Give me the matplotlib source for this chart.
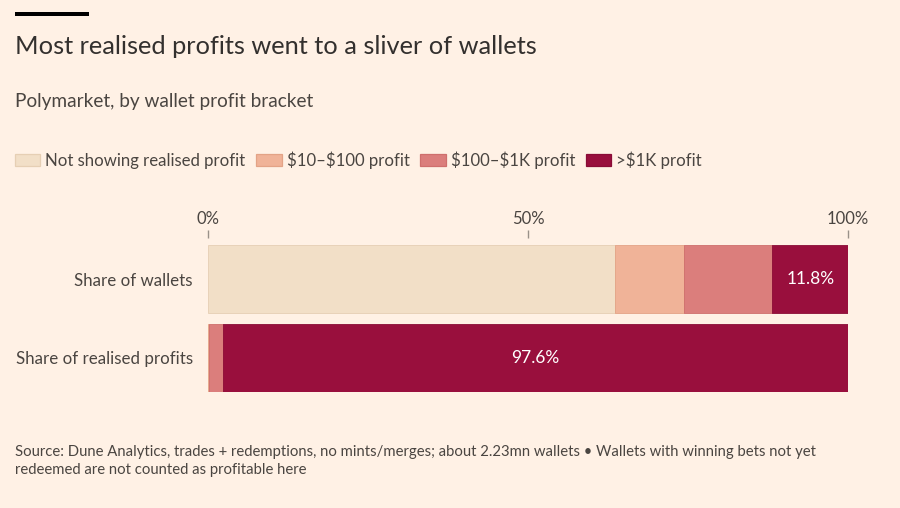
import matplotlib.pyplot as plt
from matplotlib.patches import Patch, Rectangle

# data (percent)
rows = ["Share of wallets", "Share of realised profits"]
brackets = ["Not showing realised profit", "\\$10\u2013\\$100 profit", "\\$100\u2013\\$1K profit", ">\\$1K profit"]
wallets = [63.6, 10.8, 13.8, 11.8]
profits = [0.0, 0.1, 2.3, 97.6]
ticks = [0, 50, 100]
tick_labels = ["0%", "50%", "100%"]

colors = ["#f2dfc7", "#f0b398", "#db7e7c", "#990f3d"]
edges = ["#e6cfb4", "#e3a386", "#cf6f6d", "#8a0c36"]
bg = "#fff1e5"
txt = "#33302e"
txt2 = "#4a4541"

plt.rcParams['font.family'] = ['Lato', 'DejaVu Sans']

W, H = 900, 508
fig = plt.figure(figsize=(W / 100, H / 100), dpi=100, facecolor=bg)

def fx(px):
    return px / W

def fy(py):
    return 1 - py / H

# top black rule
fig.add_artist(Rectangle((fx(15), fy(16)), fx(74), 4 / H, transform=fig.transFigure,
                         facecolor="black", edgecolor="none"))

fig.text(fx(15), fy(46), "Most realised profits went to a sliver of wallets", fontsize=18.3,
         color=txt, va="center", ha="left")
fig.text(fx(15), fy(102), "Polymarket, by wallet profit bracket", fontsize=13.7,
         color=txt2, va="center", ha="left")

handles = [Patch(facecolor=c, edgecolor=e, linewidth=0.9) for c, e in zip(colors, edges)]
fig.legend(handles, brackets, loc="center left", bbox_to_anchor=(fx(15), fy(160)), ncol=4,
           frameon=False, fontsize=12.1, labelcolor=txt2, handlelength=1.5, handleheight=0.74,
           handletextpad=0.3, columnspacing=0.65, borderaxespad=0, borderpad=0)

# axes
ax = fig.add_axes([fx(208), fy(392), fx(848) - fx(208), (392 - 245) / H])
ax.set_facecolor(bg)
h = 0.866
series = [wallets, profits]
for i, vals in enumerate(series):
    left = 0
    for j, v in enumerate(vals):
        if v > 0:
            ax.barh(i, v, left=left, height=h, color=colors[j], edgecolor=edges[j], linewidth=0.6)
        left += v

# value labels on the top bracket
ax.text(sum(wallets[:3]) + wallets[3] / 2, 0, f"{wallets[3]}%",
        color="white", fontsize=12.5, ha="center", va="center")
ax.text(100 - profits[3] / 2, 1, f"{profits[3]}%",
        color="white", fontsize=12.5, ha="center", va="center")

ax.set_xlim(0, 100)
ax.set_ylim(1 + h / 2, -h / 2)
ax.set_yticks([0, 1])
ax.set_yticklabels(rows)
ax.tick_params(axis="y", length=0, pad=11, labelsize=12.2, labelcolor=txt2)
ax.xaxis.set_ticks_position("top")
ax.set_xticks(ticks)
ax.set_xticklabels(tick_labels)
ax.tick_params(axis="x", length=6, width=1, color="#999189", pad=2, labelsize=12, labelcolor=txt2)
ax.spines['top'].set_position(('outward', 5))
for s in ax.spines.values():
    s.set_visible(False)

src_font = ['Liberation Sans Narrow', 'Lato', 'DejaVu Sans']
fig.text(fx(15), fy(452), "Source: Dune Analytics, trades + redemptions, no mints/merges; about 2.23mn wallets \u2022 "
         "Wallets with winning bets not yet", fontsize=10.7, color=txt2, va="center", ha="left",
         family=src_font)
fig.text(fx(15), fy(470), "redeemed are not counted as profitable here", fontsize=10.7, color=txt2,
         va="center", ha="left", family=src_font)

fig.savefig("out.png", dpi=100, facecolor=bg)
